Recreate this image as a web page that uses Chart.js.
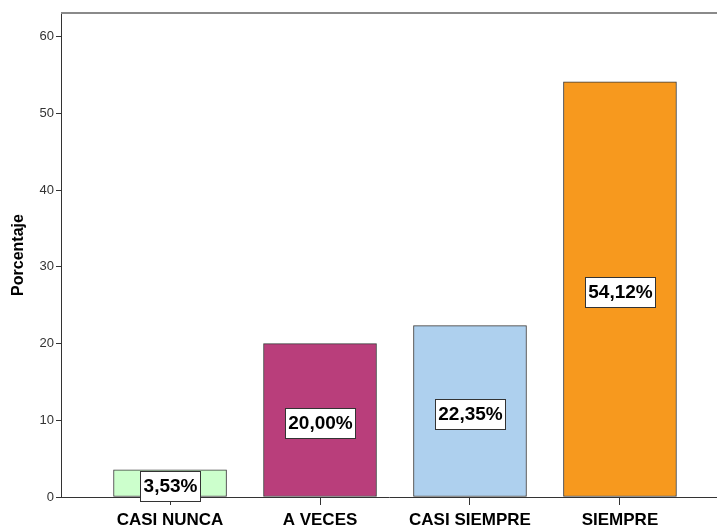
<!DOCTYPE html>
<html>
<head>
<meta charset="utf-8">
<script src="https://cdn.jsdelivr.net/npm/chart.js@4/dist/chart.umd.min.js"></script>
<style>
  html, body { margin: 0; padding: 0; background: #fff; }
  #wrap { width: 717px; height: 529px; }
</style>
</head>
<body>
<div id="wrap"><canvas id="chart" width="717" height="529"></canvas></div>
<script>
// datos
const CATEGORIAS = ["CASI NUNCA", "A VECES", "CASI SIEMPRE", "SIEMPRE"];
const PORCENTAJES = [3.53, 20.00, 22.35, 54.12];
const ETIQUETAS = ["3,53%", "20,00%", "22,35%", "54,12%"];
const COLORES = ["#CCFFCC", "#B93E7B", "#AED0EE", "#F7991E"];
const Y_TICKS = [0, 10, 20, 30, 40, 50, 60];

const FONT = "'Liberation Sans', Arial, sans-serif";

// marco superior + etiquetas tipo SPSS en medio de cada barra
const spssPlugin = {
  id: "spss",
  afterDatasetsDraw(chart) {
    const { ctx, chartArea } = chart;
    ctx.save();
    ctx.strokeStyle = "#8a8a8a";
    ctx.lineWidth = 2;
    ctx.beginPath();
    ctx.moveTo(chartArea.left, chartArea.top);
    ctx.lineTo(chartArea.right, chartArea.top);
    ctx.stroke();

    const meta = chart.getDatasetMeta(0);
    ctx.font = "bold 19px " + FONT;
    ctx.textAlign = "center";
    ctx.textBaseline = "middle";
    meta.data.forEach((bar, i) => {
      const txt = ETIQUETAS[i];
      const cy = (bar.y + bar.base) / 2 + 2.5;
      const w = Math.round(ctx.measureText(txt).width + 6);
      const h = 30;
      const x0 = Math.round(bar.x - w / 2), y0 = Math.round(cy - h / 2);
      ctx.fillStyle = "#fff";
      ctx.fillRect(x0, y0, w, h);
      ctx.strokeStyle = "#333";
      ctx.lineWidth = 1;
      ctx.strokeRect(x0 + 0.5, y0 + 0.5, w, h);
      ctx.fillStyle = "#000";
      ctx.fillText(txt, bar.x + 0.5, cy + 1.5);
    });
    ctx.restore();
  },
};

new Chart(document.getElementById("chart"), {
  type: "bar",
  data: {
    datasets: [{
      data: PORCENTAJES.map((v, i) => ({ x: i, y: v })),
      backgroundColor: COLORES,
      borderColor: "#3a3a3a",
      borderWidth: 1,
      borderSkipped: false,
      barThickness: 113,
    }],
  },
  options: {
    responsive: false,
    animation: false,
    layout: { padding: { top: 13, right: 0, left: 9, bottom: 0 } },
    plugins: { legend: { display: false }, tooltip: { enabled: false } },
    scales: {
      x: {
        type: "linear",
        offset: false,
        min: -0.727,
        max: 3.647,
        afterBuildTicks: (s) => { s.ticks = CATEGORIAS.map((_, i) => ({ value: i })); },
        afterFit: (s) => { s.height = 32; },
        ticks: {
          callback: (v) => CATEGORIAS[v],
          color: "#000",
          font: { family: FONT, size: 17, weight: "bold" },
          padding: 5,
          maxRotation: 0,
          autoSkip: false,
        },
        grid: { offset: false, drawOnChartArea: false, drawTicks: true, tickLength: 8, color: "#333" },
        border: { color: "#333", width: 1 },
      },
      y: {
        min: 0,
        max: 63.1,
        afterBuildTicks: (s) => { s.ticks = Y_TICKS.map((v) => ({ value: v })); },
        afterFit: (s) => { s.width = 52; },
        ticks: { color: "#333", font: { family: FONT, size: 13 }, padding: 2 },
        grid: { drawOnChartArea: false, drawTicks: true, tickLength: 5, color: "#333" },
        border: { color: "#333", width: 1 },
        title: {
          display: true,
          text: "Porcentaje",
          color: "#000",
          font: { family: FONT, size: 16, weight: "bold" },
          padding: { top: 0, bottom: 0 },
        },
      },
    },
  },
  plugins: [spssPlugin],
});
</script>
</body>
</html>
